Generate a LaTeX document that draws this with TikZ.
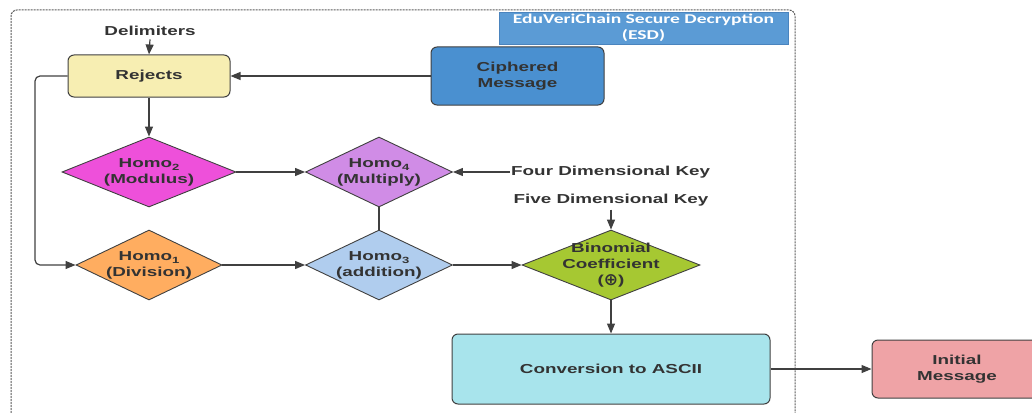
\documentclass[tikz,border=0pt]{standalone}
\usepackage{fontspec}
\setmainfont{Liberation Sans}
\newfontfamily\lblfont{Liberation Sans}[FakeStretch=1.45]
\newfontfamily\ttlfont{Carlito}[FakeStretch=1.45]
\newfontfamily\symfont{DejaVu Sans}
\usetikzlibrary{shapes.geometric,arrows.meta}

\definecolor{txtgray}{HTML}{333333}
\definecolor{linegray}{HTML}{404040}
\definecolor{framegray}{HTML}{5A5A5A}
\definecolor{esdfill}{HTML}{5B9BD5}
\definecolor{esddraw}{HTML}{4A84BE}
\definecolor{rejfill}{HTML}{F7EEB2}
\definecolor{ciphfill}{HTML}{4A90D0}
\definecolor{magfill}{HTML}{EE50DA}
\definecolor{lilfill}{HTML}{D08CE6}
\definecolor{orafill}{HTML}{FFAD60}
\definecolor{skyfill}{HTML}{B0CDEE}
\definecolor{limefill}{HTML}{A6C832}
\definecolor{cyanfill}{HTML}{A8E4EC}
\definecolor{rosefill}{HTML}{EFA3A6}

% lowered small index after "Homo"
\newcommand{\opidx}[1]{\raisebox{-3.5pt}{\fontsize{9}{9}\selectfont #1}}

\tikzset{
  lbl/.style={font=\lblfont\bfseries\fontsize{13}{16}\selectfont, text=txtgray, align=center},
  procbox/.style={lbl, draw=linegray, line width=1pt, rounded corners=6pt, inner sep=0pt},
  decision/.style={lbl, shape=diamond, draw=linegray, line width=0.9pt,
    inner xsep=-60pt, inner ysep=-30pt},
  flow/.style={draw=linegray, line width=1.2pt, -{Triangle[length=10pt,width=8pt]}},
  link/.style={draw=linegray, line width=1.2pt},
}

\begin{document}
\begin{tikzpicture}[x=1pt,y=-1pt]
\useasboundingbox (0,0) rectangle (1032,412);

% dashed boundary of the decryption stage
\draw[framegray, line width=1pt, dash pattern=on 2pt off 1pt, rounded corners=6pt]
  (11,440) -- (11,10) -- (795,10) -- (795,440);

% stage title
\node[draw=esddraw, fill=esdfill, minimum width=289pt, minimum height=32pt, inner sep=0pt,
  text=white, align=center, font=\ttlfont\bfseries\fontsize{13.5}{16}\selectfont]
  (esd) at (643.5,28) {EduVeriChain Secure Decryption\\(ESD)};

% inputs
\node[lbl] (delim) at (150,31) {Delimiters};
\node[procbox, fill=rejfill, minimum width=162pt, minimum height=42pt] (rej) at (149,76) {Rejects};
\node[procbox, fill=ciphfill, minimum width=173pt, minimum height=58pt] (ciph) at (517.5,76) {Ciphered\\Message};

% homomorphic operations
\node[decision, fill=magfill, minimum width=174pt, minimum height=70pt] (h2) at (149,172)
  {Homo\opidx{2}\\(Modulus)};
\node[decision, fill=lilfill, minimum width=147pt, minimum height=70pt] (h4) at (379,172)
  {Homo\opidx{4}\\(Multiply)};
\node[decision, fill=orafill, minimum width=146pt, minimum height=70pt] (h1) at (149,265)
  {Homo\opidx{1}\\(Division)};
\node[decision, fill=skyfill, minimum width=147pt, minimum height=70pt] (h3) at (379,265)
  {Homo\opidx{3}\\(addition)};
\node[decision, fill=limefill, minimum width=178pt, minimum height=70pt] (bin) at (611,265)
  {Binomial\\Coefficient\\({\symfont\fontsize{17}{16}\selectfont\raisebox{-1pt}{⊕}})};

% keys
\node[lbl, anchor=west, inner sep=1pt] (k4) at (510,172) {Four Dimensional Key};
\node[lbl] (k5) at (611,200) {Five Dimensional Key};

% output stages
\node[procbox, fill=cyanfill, minimum width=318pt, minimum height=70pt] (conv) at (611,369) {Conversion to ASCII};
\node[procbox, fill=rosefill, minimum width=170pt, minimum height=58pt] (init) at (957,369) {Initial\\Message};

% connectors
\draw[flow] (delim.south) -- (rej.north);
\draw[flow] (ciph.west) -- (rej.east);
\draw[flow] (rej.south) -- (h2.north);
\draw[flow, rounded corners=5pt] (rej.west) -- (35,76) |- (h1.west);
\draw[flow] (h2.east) -- (h4.west);
\draw[flow] (k4.west) -- (h4.east);
\draw[link] (h4.south) -- (h3.north);
\draw[flow] (h1.east) -- (h3.west);
\draw[flow] (h3.east) -- (bin.west);
\draw[flow] (k5.south) -- (bin.north);
\draw[flow] (bin.south) -- (conv.north);
\draw[flow] (conv.east) -- (init.west);
\end{tikzpicture}
\end{document}
